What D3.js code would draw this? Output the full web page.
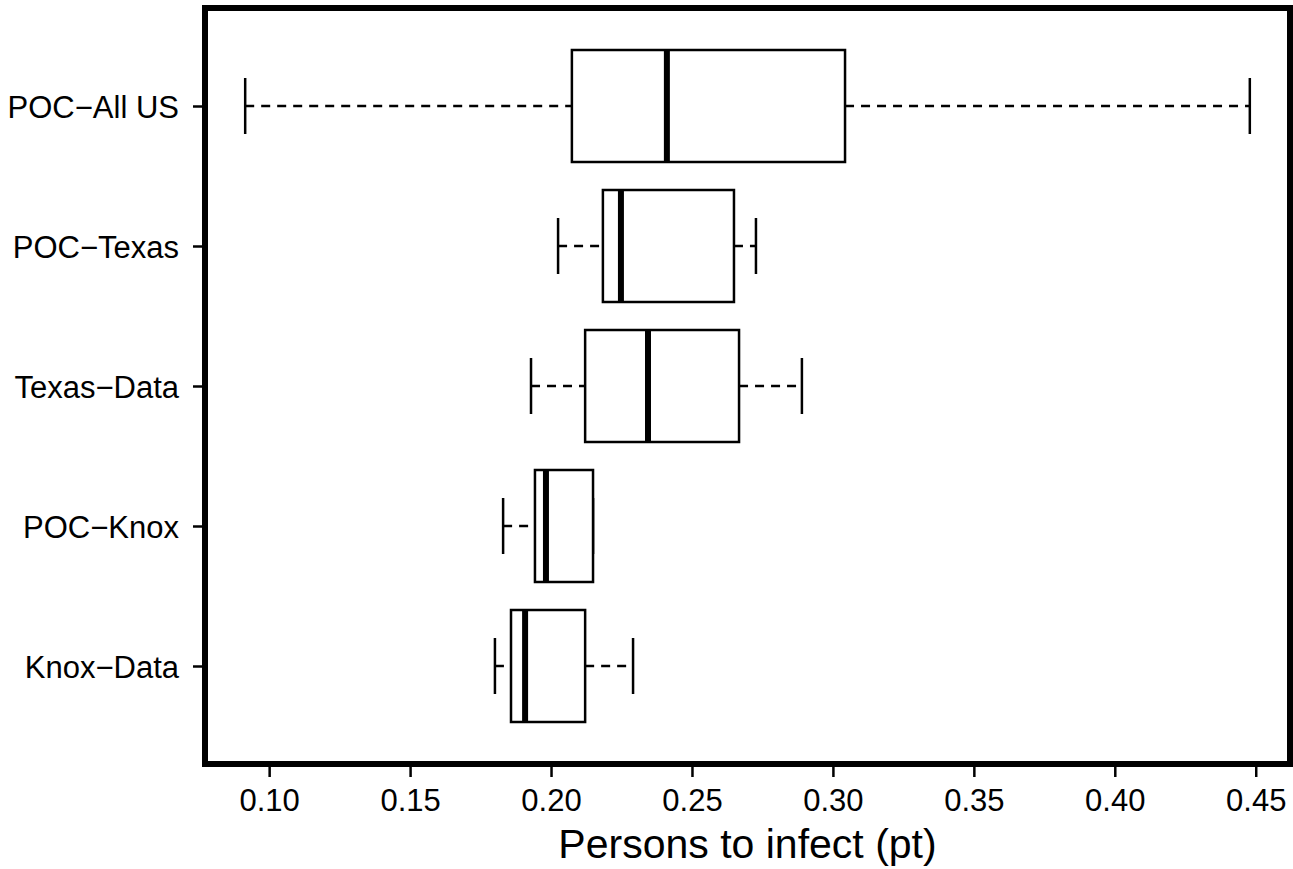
<!DOCTYPE html>
<html>
<head>
<meta charset="utf-8">
<script src="https://cdn.jsdelivr.net/npm/d3@7"></script>
<style>
  body { margin: 0; background: #fff; }
  text { font-family: "Liberation Sans", Arial, sans-serif; fill: #000; }
</style>
</head>
<body>
<div id="chart-area"></div>
<script>
const W = 1293, H = 869
const FRAME = { LEFT: 205, RIGHT: 1290, TOP: 8, BOTTOM: 764 }

// box stats (top to bottom)
const groups   = ["POC\u2212All US", "POC\u2212Texas", "Texas\u2212Data", "POC\u2212Knox", "Knox\u2212Data"]
const whiskLow = [0.0915, 0.2025, 0.1929, 0.1830, 0.1801]
const q1       = [0.2074, 0.2184, 0.2121, 0.1943, 0.1858]
const medians  = [0.2411, 0.2248, 0.2344, 0.1982, 0.1908]
const q3       = [0.3043, 0.2649, 0.2667, 0.2149, 0.2121]
const whiskHi  = [0.4479, 0.2727, 0.2890, 0.2149, 0.2291]
const xTicks   = [0.10, 0.15, 0.20, 0.25, 0.30, 0.35, 0.40, 0.45]

const data = groups.map((g, i) => ({
  name: g, lo: whiskLow[i], q1: q1[i], med: medians[i], q3: q3[i], hi: whiskHi[i]
}))

const svg = d3.select("#chart-area").append("svg")
  .attr("width", W)
  .attr("height", H)

// R style: data range padded by 4%
const lo = d3.min(whiskLow), hi = d3.max(whiskHi)
const pad = (hi - lo) * 0.04
const x = d3.scaleLinear()
  .domain([lo - pad, hi + pad])
  .range([FRAME.LEFT, FRAME.RIGHT])

const y = d3.scalePoint()
  .domain(groups)
  .range([FRAME.TOP, FRAME.BOTTOM])
  .padding(0.7)

const boxH = y.step() * 0.8
const capH = boxH / 2

// x axis
const xAxis = svg.append("g")
  .attr("transform", `translate(0,${FRAME.BOTTOM})`)
  .call(d3.axisBottom(x).tickValues(xTicks).tickFormat(d3.format(".2f")).tickSize(13).tickPadding(12))
xAxis.select(".domain").remove()
xAxis.selectAll("line").attr("stroke", "#000").attr("stroke-width", 2.5)
xAxis.selectAll("text").style("font-size", "31px").attr("font-family", null)

// y axis
const yAxis = svg.append("g")
  .attr("transform", `translate(${FRAME.LEFT},0)`)
  .call(d3.axisLeft(y).tickSize(12).tickPadding(14))
yAxis.select(".domain").remove()
yAxis.selectAll("line").attr("stroke", "#000").attr("stroke-width", 2.5)
yAxis.selectAll("text").style("font-size", "31px").attr("font-family", null).attr("dy", "0.36em")

// whiskers
const boxes = svg.selectAll(".bx").data(data).join("g").attr("class", "bx")

boxes.append("line")
  .attr("x1", d => x(d.lo)).attr("x2", d => x(d.q1))
  .attr("y1", d => y(d.name)).attr("y2", d => y(d.name))
  .attr("stroke", "#000").attr("stroke-width", 2.5).attr("stroke-dasharray", "9,7")
boxes.append("line")
  .attr("x1", d => x(d.q3)).attr("x2", d => x(d.hi))
  .attr("y1", d => y(d.name)).attr("y2", d => y(d.name))
  .attr("stroke", "#000").attr("stroke-width", 2.5).attr("stroke-dasharray", "9,7")

// caps
boxes.append("line")
  .attr("x1", d => x(d.lo)).attr("x2", d => x(d.lo))
  .attr("y1", d => y(d.name) - capH / 2).attr("y2", d => y(d.name) + capH / 2)
  .attr("stroke", "#000").attr("stroke-width", 2.5)
boxes.append("line")
  .attr("x1", d => x(d.hi)).attr("x2", d => x(d.hi))
  .attr("y1", d => y(d.name) - capH / 2).attr("y2", d => y(d.name) + capH / 2)
  .attr("stroke", "#000").attr("stroke-width", 2.5)

// box
boxes.append("rect")
  .attr("x", d => x(d.q1))
  .attr("y", d => y(d.name) - boxH / 2)
  .attr("width", d => x(d.q3) - x(d.q1))
  .attr("height", boxH)
  .attr("fill", "#fff").attr("stroke", "#000").attr("stroke-width", 2.5)

// median
boxes.append("line")
  .attr("x1", d => x(d.med)).attr("x2", d => x(d.med))
  .attr("y1", d => y(d.name) - boxH / 2).attr("y2", d => y(d.name) + boxH / 2)
  .attr("stroke", "#000").attr("stroke-width", 6)

// frame
svg.append("rect")
  .attr("x", FRAME.LEFT).attr("y", FRAME.TOP)
  .attr("width", FRAME.RIGHT - FRAME.LEFT).attr("height", FRAME.BOTTOM - FRAME.TOP)
  .attr("fill", "none").attr("stroke", "#000").attr("stroke-width", 6)

// x label
svg.append("text")
  .attr("x", (FRAME.LEFT + FRAME.RIGHT) / 2)
  .attr("y", 858)
  .attr("text-anchor", "middle")
  .style("font-size", "41px")
  .text("Persons to infect (pt)")
</script>
</body>
</html>
